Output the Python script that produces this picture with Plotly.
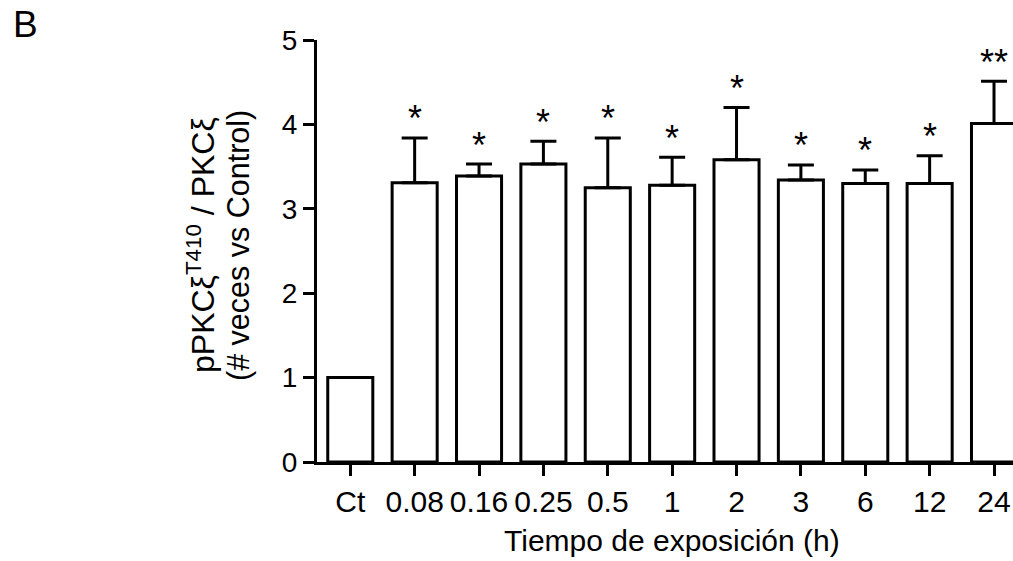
import plotly.graph_objects as go

categories = ["Ct", "0.08", "0.16", "0.25", "0.5", "1", "2", "3", "6", "12", "24"]
means = [1.00, 3.31, 3.39, 3.53, 3.25, 3.28, 3.58, 3.34, 3.30, 3.30, 4.01]
sem = [0.00, 0.53, 0.14, 0.27, 0.59, 0.33, 0.62, 0.18, 0.16, 0.33, 0.50]
signif = ["", "*", "*", "*", "*", "*", "*", "*", "*", "*", "**"]
yticks = [0, 1, 2, 3, 4, 5]

FONT = "Arial, Liberation Sans, sans-serif"
W, H = 1013, 561
ML, MR, MT, MB = 317, 0, 40, 99

fig = go.Figure()
fig.add_trace(go.Bar(
    x=list(range(len(categories))),
    y=means,
    width=0.7,
    marker=dict(color="white", line=dict(color="black", width=3)),
    error_y=dict(type="data", array=sem, arrayminus=[0] * len(sem), symmetric=False,
                 color="black", thickness=3, width=13),
    showlegend=False,
))

annotations = []
for i, (m, s, t) in enumerate(zip(means, sem, signif)):
    if t:
        annotations.append(dict(x=i, y=m + s, xref="x", yref="y", text=t, showarrow=False,
                                xanchor="center", yanchor="middle", yshift=19,
                                font=dict(family=FONT, size=36, color="black")))

pw = W - ML - MR
ph = H - MT - MB
def px2paper(px):
    return (px - ML) / pw
def py2paper(py):
    return 1 - (py - MT) / ph

annotations.append(dict(x=px2paper(201), y=py2paper(245), xref="paper", yref="paper",
                        text="pPKCξ<sup>T410</sup> / PKCξ", textangle=-90, showarrow=False,
                        xanchor="center", yanchor="middle",
                        font=dict(family=FONT, size=32, color="black")))
annotations.append(dict(x=px2paper(238), y=py2paper(246), xref="paper", yref="paper",
                        text="(# veces vs Control)", textangle=-90, showarrow=False,
                        xanchor="center", yanchor="middle",
                        font=dict(family=FONT, size=30.5, color="black")))
annotations.append(dict(x=px2paper(672), y=py2paper(540), xref="paper", yref="paper",
                        text="Tiempo de exposición (h)", showarrow=False,
                        xanchor="center", yanchor="middle",
                        font=dict(family=FONT, size=30, color="black")))
annotations.append(dict(x=px2paper(25), y=py2paper(25), xref="paper", yref="paper",
                        text="B", showarrow=False, xanchor="center", yanchor="middle",
                        font=dict(family=FONT, size=37, color="black")))

fig.update_layout(
    width=W, height=H,
    margin=dict(l=ML, r=MR, t=MT, b=MB, pad=0),
    paper_bgcolor="white", plot_bgcolor="white",
    font=dict(family=FONT, size=28, color="black"),
    annotations=annotations,
    xaxis=dict(
        range=[-0.517, 10.295],
        tickmode="array", tickvals=list(range(len(categories))), ticktext=categories,
        showline=True, linecolor="black", linewidth=3,
        ticks="outside", ticklen=11, tickwidth=3, tickcolor="black",
        showgrid=False, zeroline=False,
        tickfont=dict(family=FONT, size=30),
    ),
    yaxis=dict(
        range=[0, 5],
        tickmode="array", tickvals=yticks, ticktext=[str(v) for v in yticks],
        showline=True, linecolor="black", linewidth=3,
        ticks="outside", ticklen=11, tickwidth=3, tickcolor="black",
        showgrid=False, zeroline=False,
        tickfont=dict(family=FONT, size=28),
    ),
)

fig.write_html("out.html", config={"displayModeBar": False},
               post_script="document.body.style.margin='0';")
